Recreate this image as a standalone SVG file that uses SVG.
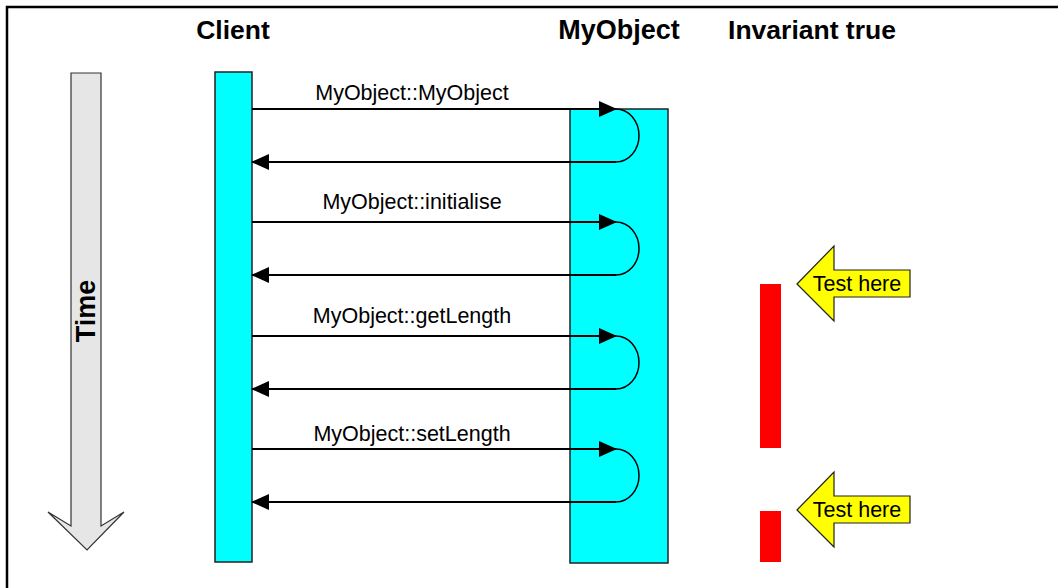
<svg xmlns="http://www.w3.org/2000/svg" width="1058" height="588" viewBox="0 0 1058 588">
  <style>
    .head { font-family: "Liberation Sans", Arial, sans-serif; font-weight: bold; font-size: 26.5px; fill: #000; text-anchor: middle; }
    .lbl { font-family: "Liberation Sans", Arial, sans-serif; font-size: 21.5px; fill: #000; text-anchor: middle; }
    .bar { fill: #00FFFF; stroke: #222; stroke-width: 1.5; }
    .msg { fill: none; stroke: #000; stroke-width: 2; }
    .ret { fill: none; stroke: #000; stroke-width: 1.5; }
    .inv { fill: #FF0000; }
    .note { fill: #FFFF00; stroke: #222; stroke-width: 1.2; stroke-linejoin: miter; }
  </style>
  <defs>
    <marker id="arrow" viewBox="0 0 18 16" refX="17" refY="8" markerWidth="18" markerHeight="16" markerUnits="userSpaceOnUse" orient="auto">
      <path d="M0,0 L18,8 L0,16 Z" fill="#000"/>
    </marker>
  </defs>

  <rect width="1058" height="588" fill="#fff"/>
  <!-- frame -->
  <path d="M7,588 L7,7 L1058,7" fill="none" stroke="#000" stroke-width="2.5"/>

  <!-- column headings -->
  <text class="head" x="233" y="39">Client</text>
  <text class="head" x="619" y="39" style="font-size:27px">MyObject</text>
  <text class="head" x="812" y="39">Invariant true</text>

  <!-- time axis -->
  <g id="time">
    <path d="M71,73 L101,73 L101,526 L124,512 L87,550 L48,512 L71,526 Z" fill="#E6E6E6" stroke="#333" stroke-width="1.2"/>
    <text transform="translate(95,311) rotate(-90)" font-family="Liberation Sans, Arial, sans-serif" font-weight="bold" font-size="27" text-anchor="middle">Time</text>
  </g>

  <g id="client">
    <rect class="bar" x="215" y="72" width="37" height="490"/>
  </g>
  <g id="myobject">
    <rect class="bar" x="570" y="109" width="98" height="454"/>
  </g>

  <g id="connectors">
    <!-- MyObject::MyObject -->
    <path class="msg" d="M252,109 L616,109" marker-end="url(#arrow)"/>
    <path class="ret" d="M616,109 A23,26.5 0 0 1 616,162"/>
    <path class="msg" d="M616,162 L252,162" marker-end="url(#arrow)"/>
    <!-- MyObject::initialise -->
    <path class="msg" d="M252,222 L616,222" marker-end="url(#arrow)"/>
    <path class="ret" d="M616,222 A23,26.5 0 0 1 616,275"/>
    <path class="msg" d="M616,275 L252,275" marker-end="url(#arrow)"/>
    <!-- MyObject::getLength -->
    <path class="msg" d="M252,336 L616,336" marker-end="url(#arrow)"/>
    <path class="ret" d="M616,336 A23,26.5 0 0 1 616,389"/>
    <path class="msg" d="M616,389 L252,389" marker-end="url(#arrow)"/>
    <!-- MyObject::setLength -->
    <path class="msg" d="M252,449 L616,449" marker-end="url(#arrow)"/>
    <path class="ret" d="M616,449 A23,26.5 0 0 1 616,502"/>
    <path class="msg" d="M616,502 L252,502" marker-end="url(#arrow)"/>
  </g>

  <g id="labels">
    <text class="lbl" x="412" y="100">MyObject::MyObject</text>
    <text class="lbl" x="412" y="209">MyObject::initialise</text>
    <text class="lbl" x="412" y="323">MyObject::getLength</text>
    <text class="lbl" x="412" y="441">MyObject::setLength</text>
  </g>

  <g id="invariant">
    <rect class="inv" x="760" y="284" width="21" height="164"/>
    <rect class="inv" x="760" y="511" width="21" height="51"/>
  </g>

  <g id="test1">
    <path class="note" d="M797,284 L834,246 L834,270 L910,270 L910,297 L834,297 L834,321 Z"/>
    <text class="lbl" x="857" y="291">Test here</text>
  </g>
  <g id="test2">
    <path class="note" d="M797,510 L834,472 L834,496 L910,496 L910,523 L834,523 L834,547 Z"/>
    <text class="lbl" x="857" y="517">Test here</text>
  </g>
</svg>
